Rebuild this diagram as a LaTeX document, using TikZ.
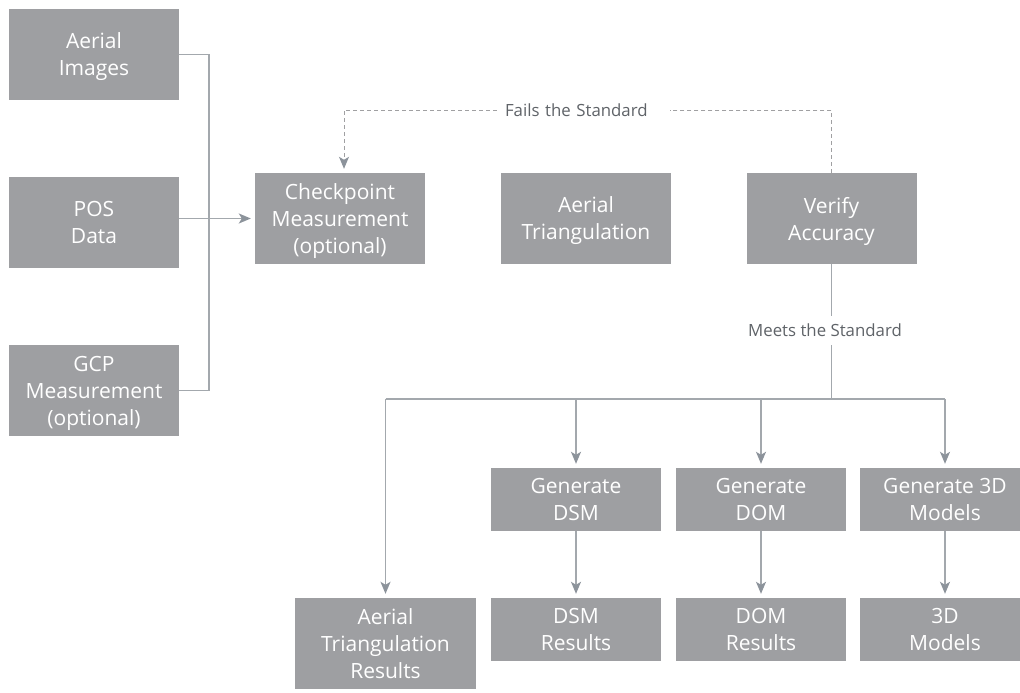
\documentclass[tikz,border=0pt]{standalone}
\usepackage{fontspec}
\setmainfont{Open Sans}
\usetikzlibrary{arrows.meta}
\definecolor{boxgray}{RGB}{158,159,162}
\definecolor{linegray}{RGB}{163,168,173}
\definecolor{tipgray}{RGB}{140,147,155}
\definecolor{dashgray}{RGB}{160,160,162}
\definecolor{labelgray}{RGB}{95,99,104}
\begin{document}
\begin{tikzpicture}[x=1pt,y=-1pt,
  box/.style={fill=boxgray,text=white,minimum width=170pt,minimum height=91pt,
    inner sep=0pt,align=center,text depth=0pt,font=\fontsize{21}{27}\selectfont},
  smallbox/.style={box,minimum height=63pt},
  conn/.style={draw=linegray,line width=1.4pt},
  arr/.style={conn,-{Stealth[length=12pt,width=10pt,inset=3pt,fill=tipgray,color=tipgray]},shorten >=4pt},
  dconn/.style={draw=dashgray,line width=1pt,dash pattern=on 4pt off 3pt},
  darr/.style={dconn,-{Stealth[length=12pt,width=10pt,inset=3pt,fill=tipgray,color=tipgray]},shorten >=4pt},
  lbl/.style={fill=white,text=labelgray,font=\fontsize{16.8}{20}\selectfont,inner sep=0pt}]
\useasboundingbox[fill=white] (0,0) rectangle (1020,693);
% left column
\node[box] (img) at (94,54.5) {Aerial\\Images};
\node[box] (pos) at (94,222.5) {POS\\Data};
\node[box] (gcp) at (94,390.5) {GCP\\Measurement\\(optional)};
% top row
\node[box] (chk) at (340,218.5) {Checkpoint\\Measurement\\(optional)};
\node[box] (at) at (586,218.5) {Aerial\\Triangulation};
\node[box] (ver) at (831.5,218.5) {Verify\\Accuracy};
% generate row
\node[smallbox] (gdsm) at (576,499.5) {Generate\\DSM};
\node[smallbox] (gdom) at (761,499.5) {Generate\\DOM};
\node[smallbox] (g3d) at (945,499.5) {Generate 3D\\Models};
% results row
\node[box,minimum width=181pt] (atr) at (385.5,643.5) {Aerial\\Triangulation\\Results};
\node[smallbox] (rdsm) at (576,629.5) {DSM\\Results};
\node[smallbox] (rdom) at (761,629.5) {DOM\\Results};
\node[smallbox] (r3d) at (945,629.5) {3D\\Models};
% labels
\node[lbl,minimum width=173pt,minimum height=20pt,text width=157pt,inner xsep=8pt,align=left] (fails) at (583.5,110) {Fails the Standard};
\node[lbl,minimum height=29pt,inner xsep=0pt] (meets) at (825,330.5) {Meets the Standard};
% coordinates
\coordinate (busL) at (209,54.5);
\coordinate (busB) at (831.5,399);
\coordinate (busAT) at (385.5,399);
\coordinate (bus3D) at (945,399);
% left bus
\draw[conn] (img.east) -- (busL) |- (gcp.east);
\draw[arr] (pos.east |- chk.west) -- (chk.west);
% fails loop
\draw[dconn] (ver.north) |- (fails.east);
\draw[darr] (fails.west) -| ([xshift=4pt]chk.north);
% meets
\draw[conn] (ver.south) -- (meets.north -| ver.south);
\draw[conn] (meets.south -| ver.south) -- (busB);
\draw[conn] (busAT) -- (bus3D);
\draw[arr] (busAT) -- (atr.north);
\draw[arr] (busAT -| gdsm) -- (gdsm.north);
\draw[arr] (busAT -| gdom) -- (gdom.north);
\draw[arr] (bus3D) -- (g3d.north);
\draw[arr] (gdsm.south) -- (rdsm.north);
\draw[arr] (gdom.south) -- (rdom.north);
\draw[arr] (g3d.south) -- (r3d.north);
\end{tikzpicture}
\end{document}
